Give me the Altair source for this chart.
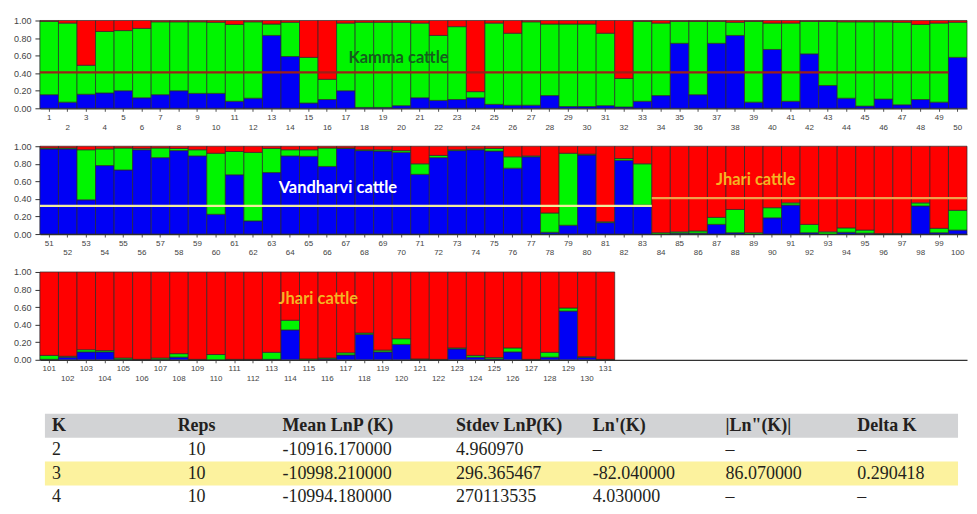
import altair as alt
import pandas as pd

# ---------------- data ----------------
ids = list(range(1, 132))
# membership proportions (blue = cluster 1, green = cluster 2, red = remainder)
blue = [
    0.155, 0.07, 0.16, 0.175, 0.20, 0.12, 0.155, 0.20, 0.17, 0.17,
    0.08, 0.115, 0.83, 0.59, 0.06, 0.10, 0.20, 0.01, 0.01, 0.03,
    0.12, 0.09, 0.10, 0.12, 0.045, 0.035, 0.035, 0.145, 0.02, 0.02,
    0.03, 0.015, 0.08, 0.145, 0.74, 0.155, 0.74, 0.83, 0.07, 0.67,
    0.08, 0.62, 0.26, 0.115, 0.025, 0.105, 0.04, 0.10, 0.07, 0.58,
    0.97, 0.97, 0.39, 0.78, 0.73, 0.96, 0.87, 0.95, 0.89, 0.225,
    0.675, 0.15, 0.70, 0.89, 0.885, 0.77, 0.975, 0.95, 0.945, 0.93,
    0.68, 0.87, 0.95, 0.96, 0.945, 0.75, 0.88, 0.02, 0.10, 0.90,
    0.13, 0.84, 0.33, 0.0, 0.01, 0.01, 0.11, 0.015, 0.0, 0.185,
    0.33, 0.015, 0.0, 0.02, 0.01, 0.0, 0.0, 0.32, 0.015, 0.045,
    0.005, 0.03, 0.09, 0.09, 0.005, 0.0, 0.005, 0.03, 0.0, 0.0,
    0.0, 0.0, 0.005, 0.34, 0.0, 0.01, 0.055, 0.29, 0.09, 0.175,
    0.005, 0.0, 0.125, 0.03, 0.01, 0.09, 0.0, 0.03, 0.555, 0.03,
    0.0,
]
green = [
    0.835, 0.90, 0.33, 0.70, 0.685, 0.79, 0.83, 0.785, 0.815, 0.81,
    0.875, 0.87, 0.13, 0.39, 0.52, 0.23, 0.77, 0.97, 0.97, 0.95,
    0.85, 0.74, 0.83, 0.07, 0.925, 0.82, 0.95, 0.815, 0.94, 0.94,
    0.825, 0.325, 0.91, 0.825, 0.25, 0.835, 0.25, 0.15, 0.92, 0.30,
    0.89, 0.37, 0.73, 0.87, 0.96, 0.88, 0.94, 0.855, 0.90, 0.40,
    0.01, 0.01, 0.57, 0.19, 0.25, 0.015, 0.11, 0.025, 0.07, 0.695,
    0.265, 0.78, 0.275, 0.07, 0.075, 0.21, 0.005, 0.01, 0.015, 0.02,
    0.12, 0.025, 0.01, 0.01, 0.03, 0.13, 0.01, 0.22, 0.82, 0.01,
    0.01, 0.02, 0.47, 0.015, 0.015, 0.025, 0.08, 0.265, 0.015, 0.115,
    0.025, 0.095, 0.025, 0.05, 0.035, 0.005, 0.005, 0.035, 0.05, 0.225,
    0.045, 0.01, 0.025, 0.015, 0.015, 0.005, 0.015, 0.04, 0.005, 0.06,
    0.005, 0.005, 0.08, 0.11, 0.01, 0.01, 0.025, 0.015, 0.02, 0.065,
    0.005, 0.005, 0.01, 0.02, 0.015, 0.045, 0.005, 0.055, 0.035, 0.005,
    0.005,
]
cluster_names = ["Cluster 1", "Cluster 2", "Cluster 3"]
cluster_colors = ["#0000f5", "#00f500", "#ff0000"]

# breed annotations
annot_text = ["Kamma cattle", "Vandharvi cattle", "Jhari cattle", "Jhari cattle"]
annot_id = [20, 67, 89, 116]
annot_q = [0.57, 0.52, 0.61, 0.69]
annot_color = ["#14601c", "#ffffff", "#f4b324", "#f4b324"]
annot_dx = [-3, -8, 2, -9]

# horizontal reference lines (first id, last id, level, colour)
line_from = [1, 51, 84]
line_to = [49, 83, 100]
line_q = [0.41, 0.32, 0.41]
line_color = ["#9c1f18", "#f1ed9c", "#f0a04c"]

# table
tbl_header = ["K", "Reps", "Mean LnP (K)", "Stdev LnP(K)", "Ln'(K)", "|Ln\"(K)|", "Delta K"]
tbl_K = ["2", "3", "4"]
tbl_reps = ["10", "10", "10"]
tbl_mean = ["-10916.170000", "-10998.210000", "-10994.180000"]
tbl_stdev = ["4.960970", "296.365467", "270113535"]
tbl_ln1 = ["\u2013", "-82.040000", "4.030000"]
tbl_ln2 = ["\u2013", "86.070000", "\u2013"]
tbl_delta = ["\u2013", "0.290418", "\u2013"]

# ---------------- layout constants ----------------
W = 929
H = 88
TH = 92            # table view height (px)
ROW = 24           # table row height (px)
col_pos = [12, 157, 243, 417, 554, 687, 819]
col_center = [False, True, False, False, False, False, False]

# ---------------- build frames ----------------
rec = []
for i, b, g in zip(ids, blue, green):
    r = max(0.0, 1.0 - b - g)
    for k, v in enumerate([b, g, r]):
        rec.append({"id": i, "cluster": cluster_names[k], "q": v, "k": k})
bars_df = pd.DataFrame(rec)

annot_df = pd.DataFrame({"id": annot_id, "q": annot_q, "text": annot_text,
                         "color": annot_color, "dx": annot_dx})
line_df = pd.DataFrame({"x0": line_from, "x1": line_to, "q": line_q, "color": line_color})


def panel(lo, hi):
    slots = list(range(lo, lo + 50))
    xscale = alt.Scale(domain=slots, paddingInner=0, paddingOuter=0)
    yscale = alt.Scale(domain=[0, 1], nice=False)
    label_expr = (f"datum.value > {hi} ? '' : "
                  f"(datum.value % 2 == 0 ? ['', datum.label] : datum.label)")
    xaxis = alt.Axis(title=None, labelAngle=0, labelFontSize=8, labelColor="#444",
                     labelFont="Liberation Sans", labelOverlap=False, labelPadding=2,
                     labelBaseline="top", labelLineHeight=10, labelExpr=label_expr,
                     tickSize=3, tickColor="#555", tickOpacity={
                         "condition": {"test": f"datum.value <= {hi}", "value": 1},
                         "value": 0},
                     domainColor="#333", domainWidth=1.2)
    yaxis = alt.Axis(title=None, values=[0, 0.2, 0.4, 0.6, 0.8, 1.0], format=".2f",
                     labelFontSize=9, labelColor="#444", labelFont="Liberation Sans",
                     labelOverlap=False, labelFlush=False,
                     tickSize=5, tickColor="#333", labelPadding=4, grid=False,
                     domainColor="#22224a", domainWidth=1.2)
    sub = bars_df[(bars_df["id"] >= lo) & (bars_df["id"] <= hi)]
    bars = alt.Chart(sub).mark_bar(stroke="#2a2a2a", strokeWidth=0.7).encode(
        x=alt.X("id:O", scale=xscale, axis=xaxis),
        y=alt.Y("q:Q", stack="zero", scale=yscale, axis=yaxis),
        color=alt.Color("cluster:N", scale=alt.Scale(domain=cluster_names, range=cluster_colors),
                        legend=None),
        order=alt.Order("k:Q", sort="ascending"),
    )
    layers = [bars]
    ls = line_df[(line_df["x0"] >= lo) & (line_df["x0"] <= hi)]
    if len(ls):
        layers.append(alt.Chart(ls).mark_rule(strokeWidth=2.2).encode(
            x=alt.X("x0:O", bandPosition=0, scale=xscale, axis=xaxis),
            x2=alt.X2("x1", bandPosition=1),
            y=alt.Y("q:Q", scale=yscale, axis=yaxis),
            color=alt.Color("color:N", scale=None),
        ))
    an = annot_df[(annot_df["id"] >= lo) & (annot_df["id"] <= hi)]
    for _, row in an.iterrows():
        layers.append(alt.Chart(pd.DataFrame([row.to_dict()])).mark_text(
            font="Lato", fontWeight="bold", fontSize=16.5, dx=float(row["dx"]),
            baseline="middle").encode(
            x=alt.X("id:O", scale=xscale, axis=xaxis),
            y=alt.Y("q:Q", scale=yscale, axis=yaxis), text="text:N",
            color=alt.Color("color:N", scale=None)))
    return alt.layer(*layers).properties(width=W, height=H)


row1 = panel(1, 50)
row2 = panel(51, 100)
row3 = panel(101, 131)

# ---------------- table ----------------
bg_df = pd.DataFrame({"r0": [0, 2], "r1": [1, 3], "x0": [5, 5], "x1": [920, 920],
                      "fill": ["#d2d3d5", "#fcf29e"]})
cols = [tbl_K, tbl_reps, tbl_mean, tbl_stdev, tbl_ln1, tbl_ln2, tbl_delta]
cells = []
for c, (hdr, vals) in enumerate(zip(tbl_header, cols)):
    cells.append({"r": 0.5, "pos": col_pos[c], "text": hdr,
                  "is_center": col_center[c], "is_head": True})
    for r, v in enumerate(vals):
        cells.append({"r": r + 1.5, "pos": col_pos[c], "text": v,
                      "is_center": col_center[c], "is_head": False})
cells_df = pd.DataFrame(cells)

yt_scale = alt.Scale(domain=[0, TH / ROW], nice=False, zero=False, reverse=True)
xt = alt.Scale(domain=[0, W], nice=False, zero=True)
bg = alt.Chart(bg_df).mark_rect().encode(
    x=alt.X("x0:Q", scale=xt, axis=None), x2="x1:Q",
    y=alt.Y("r0:Q", scale=yt_scale, axis=None), y2="r1:Q",
    color=alt.Color("fill:N", scale=None))
text_layers = []
for head in [True, False]:
    for center in [False, True]:
        d = cells_df[(cells_df["is_head"] == head) & (cells_df["is_center"] == center)]
        d = d[["r", "pos", "text"]]
        text_layers.append(alt.Chart(d).mark_text(
            font="Liberation Serif", fontSize=18, fontWeight="bold" if head else "normal",
            align="center" if center else "left", baseline="middle", color="#231f20").encode(
            x=alt.X("pos:Q", scale=xt, axis=None),
            y=alt.Y("r:Q", scale=yt_scale, axis=None), text="text:N"))
table = alt.layer(bg, *text_layers).properties(width=W, height=TH)

plots = alt.vconcat(row1, row2, row3, spacing=11)
chart = alt.vconcat(plots, table, spacing=31).properties(
    padding={"left": 5, "top": 8, "right": 0, "bottom": 0}
).configure_view(stroke=None)

chart.save("out.html", embed_options={"renderer": "svg", "actions": False})
